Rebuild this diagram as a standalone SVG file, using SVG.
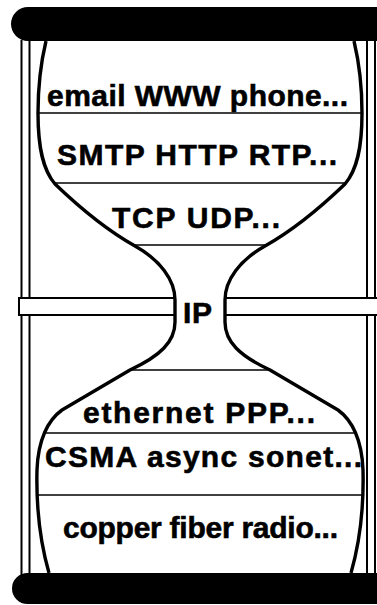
<svg xmlns="http://www.w3.org/2000/svg" width="377" height="605" viewBox="0 0 377 605">
  <style>
    .post { stroke: #000; stroke-width: 2; fill: none; }
    .bar { fill: #000; }
    .shell { fill: none; stroke: #000; stroke-width: 3.4; stroke-linejoin: round; }
    .div { stroke: #000; stroke-width: 1.6; }
    .crossbar { fill: #fff; stroke: #000; stroke-width: 2; }
    .lbl { font-family: "Liberation Sans", Arial, sans-serif; font-weight: bold; font-size: 30px; fill: #000; stroke: #000; stroke-width: 0.6; }
  </style>
  <defs>
    <clipPath id="inside">
      <path d="M46,41 C41,62 38,88 38,113 C38,148 43,170 55,184 C80,208 110,232 135,246 C160,260 175,280 175,300 L175,322 C175,342 160,356 130,370 L62,410 C48,420 38,440 37,470 C36,510 41,545 49,573 L351,573 C359,545 364,510 363,470 C362,440 352,420 338,410 L270,370 C240,356 225,342 225,322 L225,300 C225,280 240,260 265,246 C290,232 320,208 345,184 C357,170 362,148 362,113 C362,88 359,62 354,41 Z"/>
    </clipPath>
  </defs>

  <rect width="377" height="605" fill="#fff"/>

  <!-- side posts -->
  <g id="frame">
    <line class="post" x1="21.5" y1="40" x2="21.5" y2="298"/>
    <line class="post" x1="29.5" y1="40" x2="29.5" y2="298"/>
    <line class="post" x1="21.5" y1="315" x2="21.5" y2="575"/>
    <line class="post" x1="29.5" y1="315" x2="29.5" y2="575"/>
    <line class="post" x1="367" y1="40" x2="367" y2="298"/>
    <line class="post" x1="375" y1="40" x2="375" y2="298"/>
    <line class="post" x1="367" y1="315" x2="367" y2="575"/>
    <line class="post" x1="375" y1="315" x2="375" y2="575"/>
    <!-- horizontal crossbar at the waist -->
    <rect class="crossbar" x="19" y="298" width="157" height="17"/>
    <rect class="crossbar" x="224" y="298" width="170" height="17"/>
  </g>

  <!-- top and bottom slabs, rounded on the left, running off the right edge -->
  <g id="top-slab">
    <path class="bar" d="M28,7 L380,7 L380,41 L28,41 A17,17 0 0 1 28,7 Z"/>
  </g>
  <g id="bottom-slab">
    <path class="bar" d="M27.5,573 L380,573 L380,604 L27.5,604 A15.5,15.5 0 0 1 27.5,573 Z"/>
  </g>

  <!-- hourglass body -->
  <g id="hourglass">
    <rect x="0" y="0" width="400" height="605" fill="#fff" clip-path="url(#inside)"/>
    <g clip-path="url(#inside)">
      <line class="div" x1="0" y1="113" x2="400" y2="113"/>
      <line class="div" x1="0" y1="183" x2="400" y2="183"/>
      <line class="div" x1="0" y1="245" x2="400" y2="245"/>
      <line class="div" x1="0" y1="370" x2="400" y2="370"/>
      <line class="div" x1="0" y1="433" x2="400" y2="433"/>
      <line class="div" x1="0" y1="495" x2="400" y2="495"/>
    </g>
    <path class="shell" d="M46,41 C41,62 38,88 38,113 C38,148 43,170 55,184 C80,208 110,232 135,246 C160,260 175,280 175,300 L175,322 C175,342 160,356 130,370 L62,410 C48,420 38,440 37,470 C36,510 41,545 49,573"/>
    <path class="shell" d="M354,41 C359,62 362,88 362,113 C362,148 357,170 345,184 C320,208 290,232 265,246 C240,260 225,280 225,300 L225,322 C225,342 240,356 270,370 L338,410 C352,420 362,440 363,470 C364,510 359,545 351,573"/>
  </g>

  <!-- layer labels -->
  <g id="applications"><text class="lbl" x="47" y="106" textLength="301" lengthAdjust="spacing">email WWW phone...</text></g>
  <g id="app-protocols"><text class="lbl" x="57" y="165" textLength="280" lengthAdjust="spacing">SMTP HTTP RTP...</text></g>
  <g id="transport"><text class="lbl" x="112" y="228" textLength="168" lengthAdjust="spacing">TCP UDP...</text></g>
  <g id="ip"><text class="lbl" x="183" y="323" textLength="29" lengthAdjust="spacing">IP</text></g>
  <g id="link"><text class="lbl" x="83" y="423" textLength="232" lengthAdjust="spacing">ethernet PPP...</text></g>
  <g id="media-access"><text class="lbl" x="45" y="467" textLength="317" lengthAdjust="spacing">CSMA async sonet...</text></g>
  <g id="physical"><text class="lbl" x="63" y="538" textLength="275" lengthAdjust="spacing">copper fiber radio...</text></g>
</svg>
